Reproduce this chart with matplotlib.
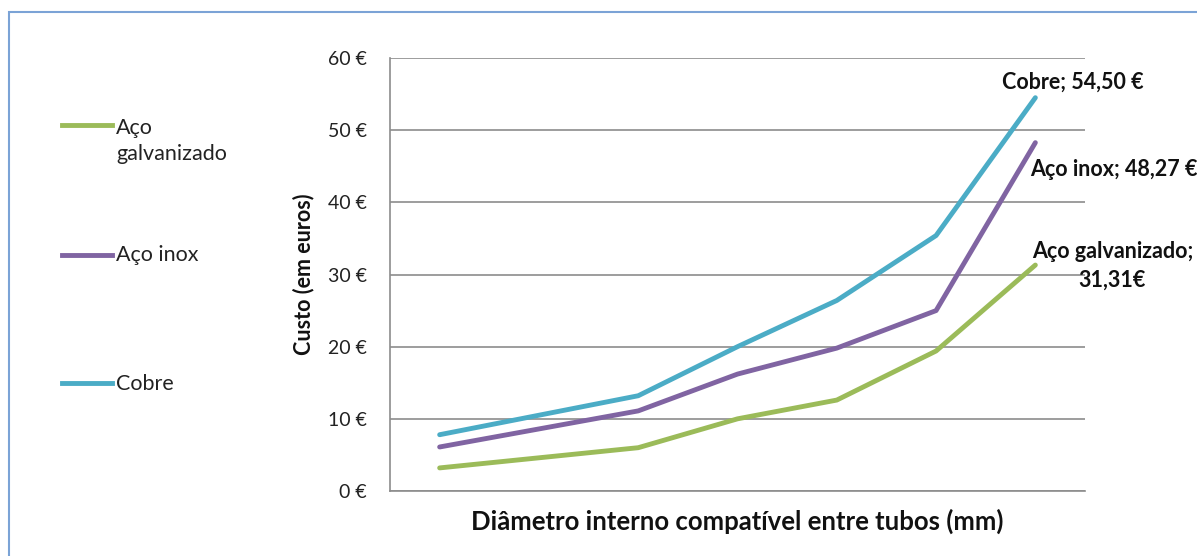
import matplotlib
matplotlib.use("Agg")
import matplotlib.pyplot as plt
from matplotlib.patches import Rectangle

plt.rcParams['font.family'] = ['Lato', 'DejaVu Sans']

# Data (in euros)
categorias = [1, 2, 3, 4, 5, 6, 7]
series_nomes = ["Aço\ngalvanizado", "Aço inox", "Cobre"]
aco_galvanizado = [3.2, 4.6, 6.0, 10.0, 12.6, 19.4, 31.31]
aco_inox = [6.1, 8.6, 11.1, 16.2, 19.8, 25.0, 48.27]
cobre = [7.8, 10.5, 13.2, 20.0, 26.4, 35.4, 54.50]
yticks = [0, 10, 20, 30, 40, 50, 60]
ytick_labels = ["0 €", "10 €", "20 €", "30 €", "40 €", "50 €", "60 €"]
rotulos = ["Aço galvanizado;\n31,31€", "Aço inox; 48,27 €", "Cobre; 54,50 €"]

cores = ["#9BBB59", "#8064A2", "#4BACC6"]

W, H = 1197, 556
fig = plt.figure(figsize=(W / 100, H / 100), dpi=100)
ax = fig.add_axes([390 / W, 1 - 491 / H, 695 / W, 433 / H])

xs = list(range(len(categorias)))
dados = [aco_galvanizado, aco_inox, cobre]
for vals, cor in zip(dados, cores):
    ax.plot(xs, vals, color=cor, lw=3.5, solid_capstyle='round',
            solid_joinstyle='round')

ax.set_xlim(-0.5, len(categorias) - 0.5)
ax.set_ylim(0, 60)
ax.set_yticks(yticks)
ax.set_yticklabels(ytick_labels, fontsize=14, color='#222222')
ax.tick_params(axis='y', length=0, pad=16.5)
ax.set_xticks([])
ax.grid(axis='y', color='#8c8c8c', lw=1.2)
ax.set_axisbelow(True)
for s in ['top', 'right']:
    ax.spines[s].set_visible(False)
for s in ['left', 'bottom']:
    ax.spines[s].set_color('#8c8c8c')
    ax.spines[s].set_linewidth(1.2)

ax.set_xlabel("Diâmetro interno compatível entre tubos (mm)", fontsize=18.5,
              fontweight='bold', labelpad=13, color='#111111')
ax.set_ylabel("Custo (em euros)", fontsize=15.5, fontweight='bold',
              labelpad=10, color='#111111')

# Data labels at last points
offsets = [(77, -1, 'center'), (-5, -27, 'left'), (37, 15, 'center')]
for vals, txt, (dx, dy, ha) in zip(dados, rotulos, offsets):
    ax.annotate(txt, xy=(xs[-1], vals[-1]), xytext=(dx, dy),
                textcoords='offset pixels', ha=ha, va='center',
                fontsize=15.5, fontweight='bold', color='#111111',
                annotation_clip=False, linespacing=1.45)

# Legend (manual, figure coordinates)
leg_y = [125, 255, 383]
text_y = [141, 255, 384]
for ln_y, t_y, nome, cor in zip(leg_y, text_y, series_nomes, cores):
    fig.add_artist(plt.Line2D([62 / W, 112 / W], [1 - ln_y / H, 1 - ln_y / H],
                              color=cor, lw=3.5, transform=fig.transFigure))
    fig.text(116 / W, 1 - t_y / H, nome, fontsize=15.5, ha='left',
             va='center', color='#222222', linespacing=1.35)

# Outer border
fig.add_artist(Rectangle((9 / W, -0.05), 1.1, 1 - 12 / H + 0.05,
                         transform=fig.transFigure, fill=False,
                         edgecolor='#7ba3d6', lw=1.5))

fig.savefig("out.png", dpi=100)
